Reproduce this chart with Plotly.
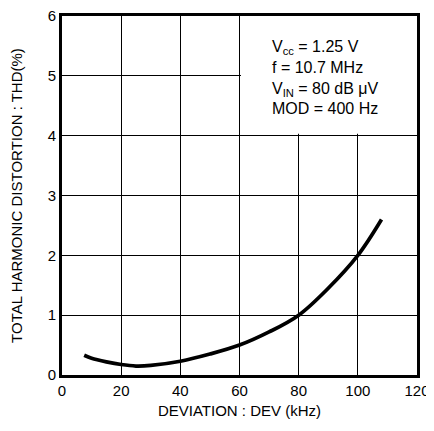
import plotly.graph_objects as go

# deviation (kHz) vs total harmonic distortion (%)
dev = [7.5, 10, 15, 20, 25, 30, 40, 50, 60, 70, 80, 90, 100, 108]
thd = [0.33, 0.28, 0.22, 0.175, 0.15, 0.16, 0.23, 0.35, 0.5, 0.72, 1.0, 1.45, 2.0, 2.6]

x_ticks = [0, 20, 40, 60, 80, 100, 120]
y_ticks = [0, 1, 2, 3, 4, 5, 6]

conditions = [
    "V<sub>cc</sub> = 1.25 V",
    "f = 10.7 MHz",
    "V<sub>IN</sub> = 80 dB μV",
    "MOD = 400 Hz",
]

FONT = "Liberation Sans, Arial, sans-serif"

fig = go.Figure()
fig.add_trace(go.Scatter(x=dev, y=thd, mode="lines",
                         line=dict(color="black", width=3.7, shape="spline", smoothing=1.0),
                         showlegend=False, cliponaxis=False))

# white panel behind the test conditions hides the grid there
fig.add_shape(type="rect", xref="x", yref="y", x0=60.5, x1=120, y0=4.03, y1=6,
              fillcolor="white", line_width=0, layer="between")

fig.add_annotation(x=0.585, y=0.945, xref="paper", yref="paper",
                   xanchor="left", yanchor="top", align="left",
                   text="<br>".join(conditions), showarrow=False,
                   font=dict(family=FONT, size=16, color="black"))

axis_common = dict(showline=True, linewidth=3, linecolor="black", mirror=True,
                   showgrid=True, gridcolor="black", gridwidth=1.3,
                   zeroline=False, ticks="", automargin=False,
                   ticklabeloverflow="allow",
                   tickfont=dict(family=FONT, size=15, color="black"))

fig.update_xaxes(range=[0, 120], tickvals=x_ticks, **axis_common,
                 title=dict(text="DEVIATION : DEV (kHz)", standoff=8,
                            font=dict(family=FONT, size=15, color="black")))
fig.update_yaxes(range=[0, 6], tickvals=y_ticks, **axis_common,
                 title=dict(text="TOTAL HARMONIC DISTORTION : THD(%)", standoff=32,
                            font=dict(family=FONT, size=15, color="black")))

# page body adds an 8px margin, so the figure is sized to the visible area
fig.update_layout(width=426, height=423, margin=dict(l=54, r=17, t=8, b=56),
                  plot_bgcolor="white", paper_bgcolor="white")

fig.write_html("out.html")
